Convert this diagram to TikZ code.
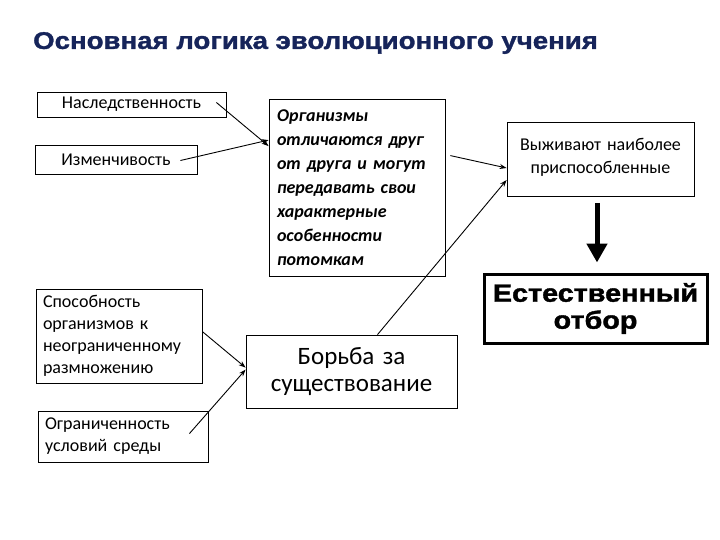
\documentclass[tikz,border=0pt]{standalone}
\usepackage{fontspec}
\setmainfont{Carlito}
\newfontfamily\widefont[FakeStretch=1.15,FakeBold=1.5]{Liberation Sans Bold}
\usetikzlibrary{arrows.meta}
\definecolor{navy}{HTML}{16245A}
\tikzset{
  bx/.style={draw,line width=0.8pt,inner xsep=7pt,inner ysep=4pt,align=center,font=\fontsize{18}{22}\selectfont,text width=#1},
  lnk/.style={-{Stealth[length=7pt,width=5pt]},line width=0.9pt},
}
\begin{document}
\begin{tikzpicture}[x=1pt,y=-1pt]
\useasboundingbox (0,0) rectangle (720,540);
\node[anchor=west,font=\widefont\fontsize{24}{26}\selectfont,text=navy,inner sep=0pt] (title) at (33,43) {Основная логика эволюционного учения};
% left column
\node[bx=175pt,minimum height=25pt] (her) at (131.5,104.5) {Наследственность};
\node[bx=148pt,minimum height=29pt] (var) at (116,159.5) {Изменчивость};
\node[bx=152pt,minimum height=94pt,align=left] (abil) at (119,336) {Способность\\организмов к\\неограниченному\\размножению};
\node[bx=156pt,minimum height=51pt,align=left] (lim) at (123,436.5) {Ограниченность\\условий среды};
% middle column
\node[bx=160pt,inner xsep=8pt,minimum height=177pt,align=left,font=\bfseries\itshape\fontsize{18}{24}\selectfont] (org) at (357,187.5)
  {Организмы\\отличаются друг\\от друга и могут\\передавать свои\\характерные\\особенности\\потомкам};
\node[bx=197pt,minimum height=73pt,font=\fontsize{25}{27}\selectfont] (strug) at (351.5,371.5) {Борьба за\\существование};
% right column
\node[bx=173pt,anchor=north,minimum height=74pt,text depth=30pt,font=\fontsize{18}{23}\selectfont] (surv) at (600.5,122) {Выживают наиболее\\приспособленные};
\node[bx=209pt,line width=3pt,minimum height=69pt,font=\widefont\fontsize{25}{27}\selectfont] (nat) at (595.5,308.5) {Естественный\\отбор};
\coordinate (drop) at ([xshift=-3.5]surv.south);
% arrows
\draw[lnk] ([shift={(-10,-2)}]her.east) -- ([yshift=-47.5]org.north west);
\draw[lnk] ([shift={(-17,1)}]var.east) -- ([yshift=-41.5]org.north west);
\draw[lnk] ([shift={(5,57)}]org.north east) -- ([yshift=-46]surv.north west);
\draw[lnk] ([xshift=26]strug.north) -- ([yshift=-58]surv.north west);
\draw[lnk] ([yshift=-43]abil.north east) -- ([yshift=-33]strug.north west);
\draw[lnk] ([shift={(-19,23)}]lim.north east) -- ([yshift=-35]strug.north west);
\draw[-{Triangle[length=19pt,width=20pt]},line width=5pt] ([yshift=-6]drop) -- ([yshift=10]nat.north -| drop);
\end{tikzpicture}
\end{document}
